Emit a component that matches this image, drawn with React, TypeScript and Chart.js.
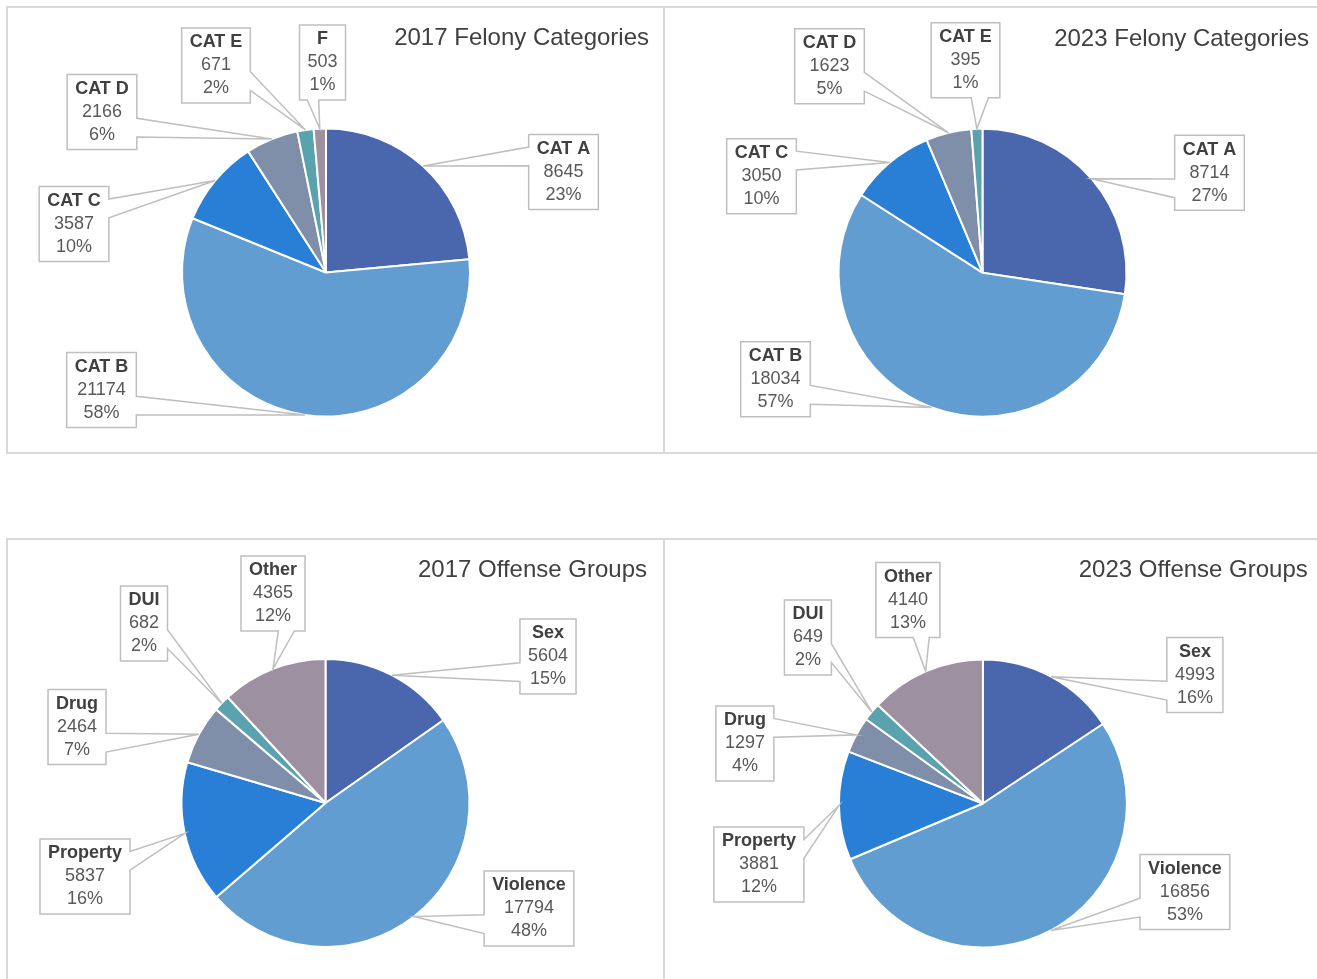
import React, { useEffect, useRef } from 'react';
import { Chart, registerables } from 'chart.js';

Chart.register(...registerables);

// ---------- data ----------
const felonyLabels2017 = ['CAT A', 'CAT B', 'CAT C', 'CAT D', 'CAT E', 'F'];
const felonyValues2017 = [8645, 21174, 3587, 2166, 671, 503];

const felonyLabels2023 = ['CAT A', 'CAT B', 'CAT C', 'CAT D', 'CAT E'];
const felonyValues2023 = [8714, 18034, 3050, 1623, 395];

const offenseLabels = ['Sex', 'Violence', 'Property', 'Drug', 'DUI', 'Other'];
const offenseValues2017 = [5604, 17794, 5837, 2464, 682, 4365];
const offenseValues2023 = [4993, 16856, 3881, 1297, 649, 4140];

const chartTitles = [
  '2017 Felony Categories',
  '2023 Felony Categories',
  '2017 Offense Groups',
  '2023 Offense Groups',
];

// ---------- style ----------
const sliceColors = ['#4A66AC', '#629DD1', '#297FD5', '#7F8FA9', '#5AA2AE', '#9D90A0'];
const FONT = '"Liberation Sans", Arial, sans-serif';
const TITLE_SIZE = 24;
const TITLE_LH = TITLE_SIZE * 1.2;
const PAD_RIGHT = 15;
const R = 145;

// ---------- layout (page coordinates) ----------
type Layout = {
  center: [number, number];
  titleRight: number;
  titleY: number;
  top: number;
  bottom: number;
  offsets: [number, number][]; // label box centre relative to pie centre
};

const layouts: Layout[] = [
  {
    center: [326, 272.5], titleRight: 649, titleY: 38, top: 9, bottom: 452,
    offsets: [[237.5, -100.5], [-224.5, 117.5], [-252, -48.5], [-224, -160.5], [-110, -207], [-3.5, -210]],
  },
  {
    center: [982.5, 272.7], titleRight: 1309, titleY: 39, top: 9, bottom: 452,
    offsets: [[227, -100], [-207, 106.5], [-221, -96.5], [-153, -206.5], [-17, -212.5]],
  },
  {
    center: [325.5, 803], titleRight: 647, titleY: 570, top: 540, bottom: 979,
    offsets: [[222.5, -146.5], [203.5, 105.5], [-240.5, 73.5], [-248.5, -76], [-181.5, -179.5], [-52.5, -209.5]],
  },
  {
    center: [982.6, 803.5], titleRight: 1307.5, titleY: 570, top: 540, bottom: 979,
    offsets: [[212, -128.5], [202, 88.5], [-224, 61], [-238, -60], [-175, -166], [-75, -203.5]],
  },
];

const panels = [
  { x: 6, y: 6, w: 659, h: 448 },
  { x: 663, y: 6, w: 700, h: 448 },
  { x: 6, y: 538, w: 659, h: 500 },
  { x: 663, y: 538, w: 700, h: 500 },
];

const specs = [
  { labels: felonyLabels2017, values: felonyValues2017 },
  { labels: felonyLabels2023, values: felonyValues2023 },
  { labels: offenseLabels, values: offenseValues2017 },
  { labels: offenseLabels, values: offenseValues2023 },
];

// Excel-style whole percentages that add up to 100 (largest remainder)
function wholePercents(values: number[]): number[] {
  const total = values.reduce((a, b) => a + b, 0);
  const raw = values.map((v) => (v / total) * 100);
  const out = raw.map((r) => Math.floor(r));
  const missing = 100 - out.reduce((a, b) => a + b, 0);
  const order = raw
    .map((r, i) => ({ rem: r - Math.floor(r), i }))
    .sort((a, b) => b.rem - a.rem);
  for (let k = 0; k < missing; k++) out[order[k].i] += 1;
  return out;
}

// Excel-like wedge rectangle callout
function calloutPath(ctx: CanvasRenderingContext2D, l: number, t: number, w: number, h: number, px: number, py: number) {
  const r = l + w;
  const b = t + h;
  const hc = l + w / 2;
  const vc = t + h / 2;
  const dx = px - hc;
  const dy = py - vc;
  const dq = (dx * h) / w;
  const vertical = Math.abs(dy) > Math.abs(dq);
  const x1 = l + (w * (dx > 0 ? 7 : 2)) / 12;
  const x2 = l + (w * (dx > 0 ? 10 : 5)) / 12;
  const y1 = t + (h * (dy > 0 ? 7 : 2)) / 12;
  const y2 = t + (h * (dy > 0 ? 10 : 5)) / 12;
  ctx.beginPath();
  ctx.moveTo(l, t);
  if (vertical && dy < 0) {
    ctx.lineTo(x1, t);
    ctx.lineTo(px, py);
    ctx.lineTo(x2, t);
  }
  ctx.lineTo(r, t);
  if (!vertical && dx > 0) {
    ctx.lineTo(r, y1);
    ctx.lineTo(px, py);
    ctx.lineTo(r, y2);
  }
  ctx.lineTo(r, b);
  if (vertical && dy > 0) {
    ctx.lineTo(x2, b);
    ctx.lineTo(px, py);
    ctx.lineTo(x1, b);
  }
  ctx.lineTo(l, b);
  if (!vertical && dx < 0) {
    ctx.lineTo(l, y2);
    ctx.lineTo(px, py);
    ctx.lineTo(l, y1);
  }
  ctx.closePath();
}

function makeCalloutPlugin(offsets: [number, number][]) {
  return {
    id: 'callouts',
    afterDatasetsDraw(chart: any) {
      const ctx: CanvasRenderingContext2D = chart.ctx;
      const meta = chart.getDatasetMeta(0);
      const values = chart.data.datasets[0].data as number[];
      const labels = chart.data.labels as string[];
      const pcts = wholePercents(values);
      const LINE = 23;
      const BOX_H = 75;
      ctx.save();
      meta.data.forEach((arc: any, i: number) => {
        const p = arc.getProps(['x', 'y', 'startAngle', 'endAngle', 'outerRadius'], true);
        const mid = (p.startAngle + p.endAngle) / 2;
        const tx = p.x + Math.cos(mid) * p.outerRadius;
        const ty = p.y + Math.sin(mid) * p.outerRadius;
        const cx = p.x + offsets[i][0];
        const cy = p.y + offsets[i][1];
        const name = labels[i];
        const val = String(values[i]);
        const pct = pcts[i] + '%';
        ctx.font = `bold 18px ${FONT}`;
        const wName = ctx.measureText(name).width;
        ctx.font = `18px ${FONT}`;
        const wVal = Math.max(ctx.measureText(val).width, ctx.measureText(pct).width);
        const bw = Math.max(wName, wVal) + 16;
        const l = cx - bw / 2;
        const t = cy - BOX_H / 2;
        calloutPath(ctx, l, t, bw, BOX_H, tx, ty);
        ctx.fillStyle = '#FFFFFF';
        ctx.fill();
        ctx.lineWidth = 1.5;
        ctx.strokeStyle = '#BFBFBF';
        ctx.stroke();
        ctx.textAlign = 'center';
        ctx.textBaseline = 'middle';
        ctx.font = `bold 18px ${FONT}`;
        ctx.fillStyle = '#404040';
        ctx.fillText(name, cx, cy - LINE);
        ctx.font = `18px ${FONT}`;
        ctx.fillStyle = '#595959';
        ctx.fillText(val, cx, cy);
        ctx.fillText(pct, cx, cy + LINE);
      });
      ctx.restore();
    },
  };
}

function PieChart({ index }: { index: number }) {
  const ref = useRef<HTMLCanvasElement>(null);
  const lay = layouts[index];
  const spec = specs[index];
  const innerW = 2 * (lay.titleRight - lay.center[0]);
  const left = lay.center[0] - innerW / 2;
  const width = Math.round(innerW + PAD_RIGHT);
  const height = lay.bottom - lay.top;

  useEffect(() => {
    const padTop = lay.titleY - lay.top - TITLE_LH / 2;
    const padBottom = lay.center[1] - R - lay.top - padTop - TITLE_LH;
    const layoutBottom = lay.bottom - (lay.center[1] + R);
    const chart = new Chart(ref.current as HTMLCanvasElement, {
      type: 'pie',
      data: {
        labels: spec.labels,
        datasets: [
          {
            data: spec.values,
            backgroundColor: sliceColors.slice(0, spec.values.length),
            borderColor: '#FFFFFF',
            borderWidth: 2,
            hoverOffset: 0,
            offset: 0,
          },
        ],
      },
      options: {
        responsive: false,
        animation: false,
        devicePixelRatio: 1,
        events: [],
        layout: { padding: { left: 0, right: width - innerW, top: 0, bottom: layoutBottom } },
        plugins: {
          legend: { display: false },
          tooltip: { enabled: false },
          title: {
            display: true,
            text: chartTitles[index],
            align: 'end',
            color: '#404040',
            font: { family: FONT, size: TITLE_SIZE, weight: 'normal', lineHeight: 1.2 },
            padding: { top: padTop, bottom: padBottom },
          },
        },
      } as any,
      plugins: [makeCalloutPlugin(lay.offsets)],
    });
    return () => chart.destroy();
  }, []);

  return (
    <canvas
      ref={ref}
      width={width}
      height={height}
      style={{ position: 'absolute', left, top: lay.top, width, height }}
    />
  );
}

export default function App() {
  return (
    <div
      style={{
        position: 'fixed',
        left: 0,
        top: 0,
        width: 1317,
        height: 979,
        background: '#FFFFFF',
        overflow: 'hidden',
      }}
    >
      {panels.map((p, i) => (
        <div
          key={'p' + i}
          style={{
            position: 'absolute',
            left: p.x,
            top: p.y,
            width: p.w,
            height: p.h,
            border: '2px solid #D9D9D9',
            boxSizing: 'border-box',
          }}
        />
      ))}
      {layouts.map((_, i) => (
        <PieChart key={i} index={i} />
      ))}
    </div>
  );
}
